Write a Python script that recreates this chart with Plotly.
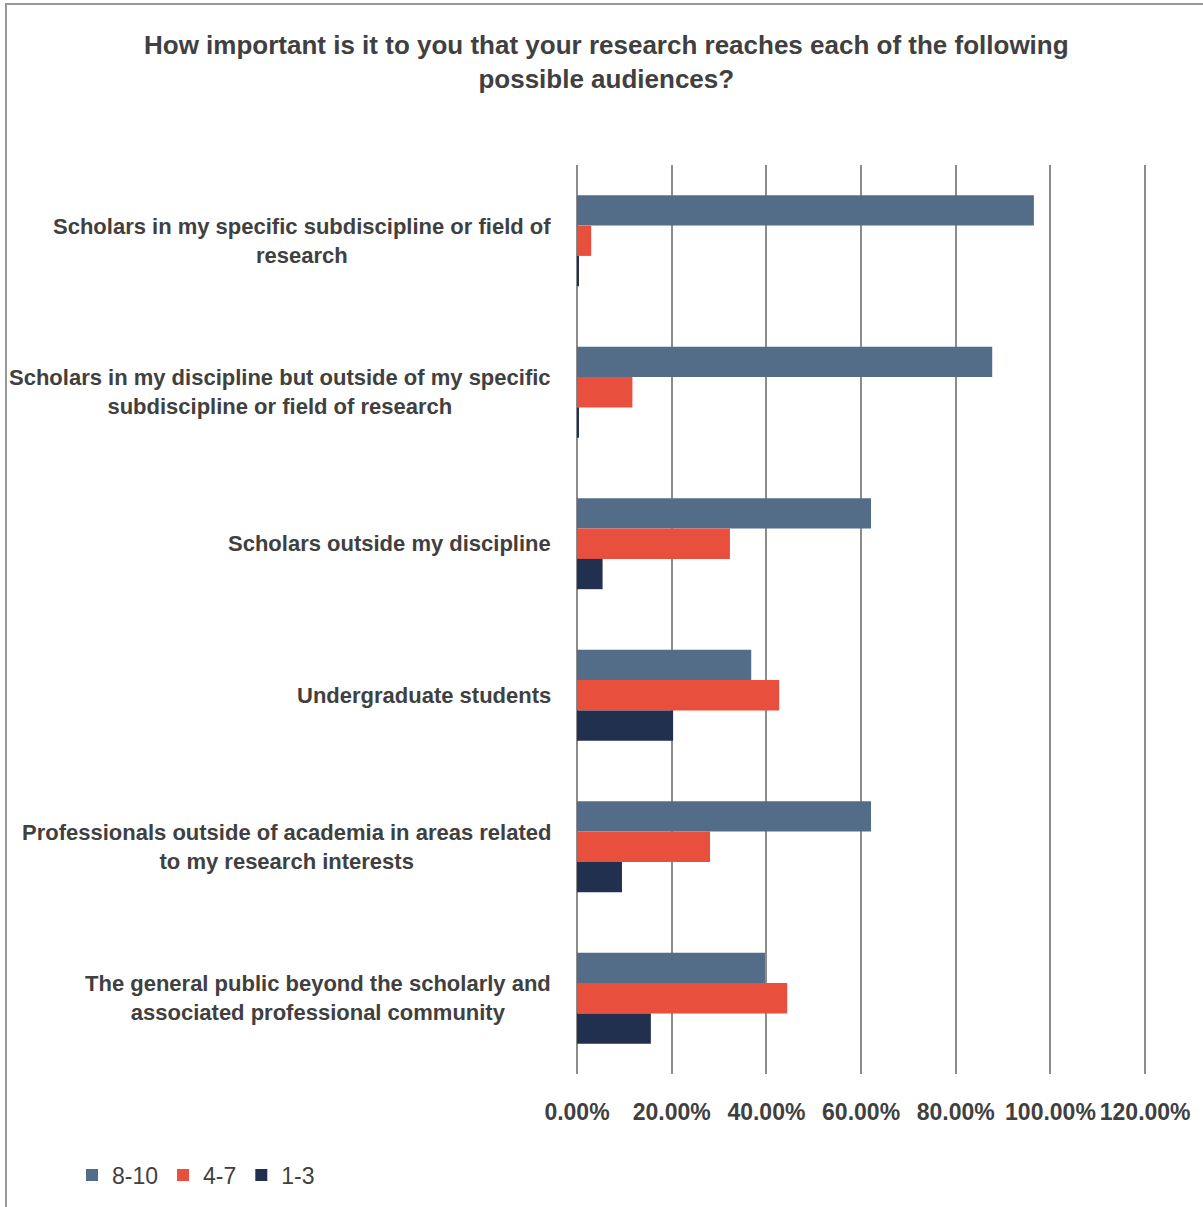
import plotly.graph_objects as go

categories = [
    "Scholars in my specific subdiscipline or field of<br>research",
    "Scholars in my discipline but outside of my specific<br>subdiscipline or field of research",
    "Scholars outside my discipline",
    "Undergraduate students",
    "Professionals outside of academia in areas related<br>to my research interests",
    "The general public beyond the scholarly and<br>associated professional community",
]
series_names = ["8-10", "4-7", "1-3"]
high = [0.965, 0.877, 0.621, 0.368, 0.621, 0.397]
mid = [0.030, 0.117, 0.323, 0.427, 0.281, 0.444]
low = [0.004, 0.004, 0.054, 0.203, 0.095, 0.156]
tick_vals = [0, 0.2, 0.4, 0.6, 0.8, 1.0, 1.2]
tick_text = ["0.00%", "20.00%", "40.00%", "60.00%", "80.00%", "100.00%", "120.00%"]
title_text = ("How important is it to you that your research reaches each of the following"
              "<br>possible audiences?")

colors = ["#536D88", "#E94F3D", "#22304F"]
FONT = "Liberation Sans, Arial, sans-serif"
TEXT = "#404040"

fig = go.Figure()
for name, vals, col in zip(series_names, [high, mid, low], colors):
    fig.add_trace(go.Bar(
        y=categories, x=vals, name=name, orientation="h",
        marker=dict(color=col, line=dict(width=0)),
    ))

W, H = 1203, 1207
# range runs a little past 120% so the last gridline is kept
X_MAX = 1.206
L, R, T, B = 577, 55, 165, 133
pw, ph = W - L - R, H - T - B

def px_x(p):
    return (p - L) / pw

def px_y(p):
    return (H - B - p) / ph

fig.update_layout(
    width=W, height=H,
    margin=dict(l=L, r=R, t=T, b=B, autoexpand=False),
    paper_bgcolor="white", plot_bgcolor="white",
    barmode="group", bargap=0.4, bargroupgap=0,
    font=dict(family=FONT, color=TEXT),
    xaxis=dict(range=[0, X_MAX], tickvals=tick_vals,
               ticktext=["<b>" + t + "</b>" for t in tick_text],
               tickfont=dict(size=23, color=TEXT, family=FONT), tickangle=0,
               showgrid=True, gridcolor="#8C8C8C", gridwidth=2,
               zeroline=True, zerolinecolor="#8C8C8C", zerolinewidth=2,
               showline=False, ticks="", ticklabelstandoff=22,
               automargin=False, fixedrange=True),
    yaxis=dict(autorange="reversed", showgrid=False, showline=False, ticks="",
               showticklabels=False, automargin=False, fixedrange=True),
    legend=dict(orientation="h", x=px_x(72), xanchor="left",
                y=px_y(1175), yanchor="middle", traceorder="normal",
                font=dict(size=23, color=TEXT, family=FONT),
                itemwidth=30, tracegroupgap=0),
    showlegend=True,
)

# category labels: right-aligned block, lines centred within it
for c in categories:
    fig.add_annotation(text="<b>" + c + "</b>", xref="paper", yref="y",
                       x=px_x(553), y=c, xanchor="right", yanchor="middle",
                       align="center", showarrow=False,
                       font=dict(size=22, color=TEXT, family=FONT))

# two-line chart title
fig.add_annotation(text="<b>" + title_text + "</b>", xref="paper", yref="paper",
                   x=px_x(606), y=px_y(62), xanchor="center", yanchor="middle",
                   showarrow=False, font=dict(size=26, color=TEXT, family=FONT))

# chart frame
fig.add_shape(type="rect", xref="paper", yref="paper",
              x0=px_x(6), x1=px_x(1210), y0=px_y(1215), y1=px_y(4),
              line=dict(color="#989898", width=2), fillcolor="rgba(0,0,0,0)", layer="below")

fig.write_html("out.html")
